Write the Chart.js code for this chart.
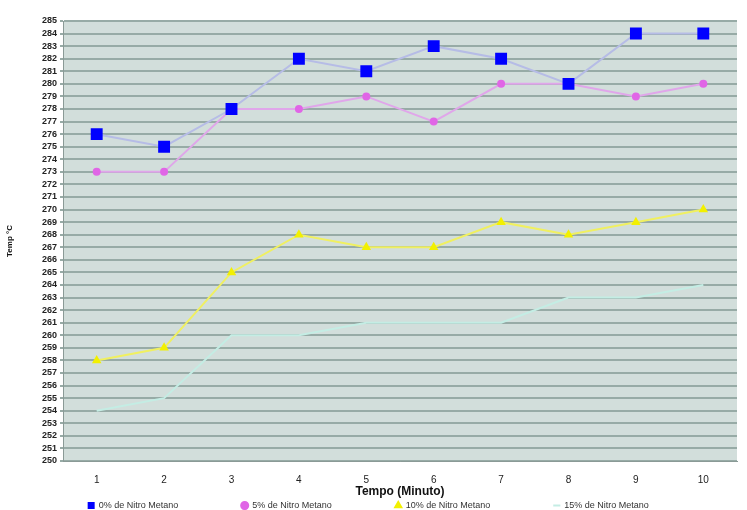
<!DOCTYPE html>
<html>
<head>
<meta charset="utf-8">
<script src="https://cdn.jsdelivr.net/npm/chart.js@4/dist/chart.umd.min.js"></script>
<style>
  html, body { margin: 0; padding: 0; background: #fff; }
  #wrap { width: 747px; height: 510px; position: relative; }
</style>
</head>
<body>
<div id="wrap"><canvas id="chart" width="747" height="510"></canvas></div>
<script>
// Temperature per minute for each nitromethane blend
const minutes = ['1', '2', '3', '4', '5', '6', '7', '8', '9', '10'];
const nitro0 = [276, 275, 278, 282, 281, 283, 282, 280, 284, 284];
const nitro5 = [273, 273, 278, 278, 279, 277, 280, 280, 279, 280];
const nitro10 = [258, 259, 265, 268, 267, 267, 269, 268, 269, 270];
const nitro15 = [254, 255, 260, 260, 261, 261, 261, 263, 263, 264];

const yMin = 250;
const yMax = 285;

// plot area background (Excel style grey-green)
const plotBg = {
  id: 'plotBg',
  beforeDraw(chart) {
    const { ctx, chartArea: a } = chart;
    ctx.save();
    ctx.fillStyle = '#d2dedb';
    ctx.fillRect(a.left, a.top, a.right - a.left, a.bottom - a.top);
    ctx.restore();
  }
};

const family = 'Liberation Sans, Arial, sans-serif';

// spread legend items apart without adding vertical padding
const legendGap = '\u2003'.repeat(6) + '   ';
function legendLabels(chart) {
  const items = Chart.defaults.plugins.legend.labels.generateLabels(chart);
  items.forEach((item, i) => {
    if (i < items.length - 1) item.text += legendGap;
  });
  return items;
}

new Chart(document.getElementById('chart'), {
  type: 'line',
  data: {
    labels: minutes,
    datasets: [
      {
        label: '0% de Nitro Metano',
        data: nitro0,
        borderColor: '#b6bce6',
        backgroundColor: '#0000ff',
        borderWidth: 2,
        pointStyle: 'rect',
        pointRadius: 7,
        pointBorderColor: '#0000ff',
        pointBackgroundColor: '#0000ff'
      },
      {
        label: '5% de Nitro Metano',
        data: nitro5,
        borderColor: '#e0a6ea',
        backgroundColor: '#e066e6',
        borderWidth: 2,
        pointStyle: 'circle',
        pointRadius: 3,
        pointBorderColor: '#e066e6',
        pointBackgroundColor: '#e066e6'
      },
      {
        label: '10% de Nitro Metano',
        data: nitro10,
        borderColor: '#f0f060',
        backgroundColor: '#f2f000',
        borderWidth: 2,
        pointStyle: 'triangle',
        pointRadius: 3.5,
        pointBorderColor: '#f2f000',
        pointBackgroundColor: '#f2f000'
      },
      {
        label: '15% de Nitro Metano',
        data: nitro15,
        borderColor: '#c4ede4',
        backgroundColor: '#c4ede4',
        borderWidth: 2,
        pointStyle: 'line',
        pointRadius: 0
      }
    ]
  },
  options: {
    responsive: false,
    animation: false,
    layout: { padding: { top: 21, right: 10, left: 0, bottom: -10 } },
    plugins: {
      legend: {
        position: 'bottom',
        labels: {
          usePointStyle: true,
          boxWidth: 6,
          boxHeight: 5,
          padding: 2,
          color: '#333',
          font: { family, size: 9 },
          generateLabels: legendLabels
        }
      },
      tooltip: { enabled: false }
    },
    scales: {
      x: {
        offset: true,
        afterFit(scale) { scale.height = 38; },
        grid: { display: false },
        border: { color: '#8a9a96' },
        ticks: { color: '#222', font: { family, size: 10 }, padding: 5 },
        title: {
          display: true,
          text: 'Tempo (Minuto)',
          color: '#111',
          padding: 0,
          font: { family, size: 12, weight: 'bold' }
        }
      },
      y: {
        min: yMin,
        max: yMax,
        afterFit(scale) { scale.width = 63; },
        grid: { color: '#97aba6', lineWidth: 2, drawTicks: true, tickLength: 3 },
        border: { color: '#8a9a96' },
        ticks: { stepSize: 1, autoSkip: false, color: '#222', font: { family, size: 9, weight: 'bold' }, padding: 3 },
        title: {
          display: true,
          text: 'Temp °C',
          color: '#111',
          padding: { top: 5, bottom: 3 },
          font: { family, size: 8, weight: 'bold' }
        }
      }
    }
  },
  plugins: [plotBg]
});
</script>
</body>
</html>
